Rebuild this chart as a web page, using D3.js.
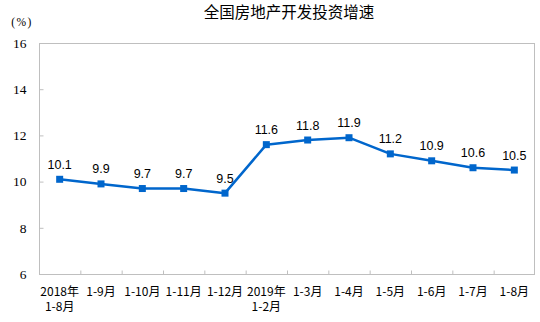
<!DOCTYPE html>
<html>
<head>
<meta charset="utf-8">
<script src="https://cdn.jsdelivr.net/npm/d3@7/dist/d3.min.js"></script>
<style>
  html, body { margin: 0; padding: 0; background: #ffffff; }
  svg { display: block; }
</style>
</head>
<body>
<svg id="chart" width="540" height="322"></svg>
<script>
// Year-to-date growth of national real-estate development investment (%)
const title = "全国房地产开发投资增速";
const unitLabel = "(%)";
const periods = [
  "2018年\n1-8月", "1-9月", "1-10月", "1-11月", "1-12月",
  "2019年\n1-2月", "1-3月", "1-4月", "1-5月", "1-6月", "1-7月", "1-8月"
];
const growth = [10.1, 9.9, 9.7, 9.7, 9.5, 11.6, 11.8, 11.9, 11.2, 10.9, 10.6, 10.5];
const yTicks = [6, 8, 10, 12, 14, 16];

const frameColor = "#bfbfbf";
const lineColor = "#0066cc";
const cjk = "'Noto Sans CJK SC', 'Noto Sans', sans-serif";

const svg = d3.select("#chart");
const plot = { left: 39, top: 43, right: 535, bottom: 274 };

const x = d3.scaleBand().domain(periods).range([plot.left, plot.right]);
const xEdges = d3.scaleLinear().domain([0, periods.length]).range([plot.left, plot.right]);
const y = d3.scaleLinear().domain([6, 16]).range([plot.bottom, plot.top]);
const cx = d => x(d) + x.bandwidth() / 2;

// Title
svg.append("text")
  .attr("x", (plot.left + plot.right) / 2 + 2)
  .attr("y", 18)
  .attr("text-anchor", "middle")
  .attr("font-family", cjk)
  .attr("font-size", 15.5)
  .attr("fill", "#000")
  .text(title);

// Unit label
svg.append("text")
  .attr("x", 22)
  .attr("y", 26)
  .attr("text-anchor", "middle")
  .attr("font-family", "'Liberation Serif', serif")
  .attr("font-size", 11.5)
  .attr("letter-spacing", 1.5)
  .attr("fill", "#000")
  .text(unitLabel);

// Plot frame
svg.append("rect")
  .attr("x", plot.left + 0.5)
  .attr("y", plot.top + 0.5)
  .attr("width", plot.right - plot.left - 1)
  .attr("height", plot.bottom - plot.top)
  .attr("fill", "none")
  .attr("stroke", frameColor)
  .attr("stroke-width", 1);

// Y axis: inward ticks, serif labels
const yAxis = svg.append("g")
  .attr("transform", `translate(${plot.left + 0.5},0)`)
  .call(d3.axisLeft(y).tickValues(yTicks).tickSize(-4).tickPadding(13).tickFormat(d3.format("d")));
yAxis.select(".domain").remove();
yAxis.selectAll(".tick line").attr("stroke", frameColor);
yAxis.selectAll(".tick text")
  .attr("font-family", "'Liberation Serif', serif")
  .attr("font-size", 13.5)
  .attr("fill", "#000");

// X axis: inward ticks at category boundaries
const xTickAxis = svg.append("g")
  .attr("transform", `translate(0,${plot.bottom + 0.5})`)
  .call(d3.axisBottom(xEdges).tickValues(d3.range(1, periods.length)).tickSize(-4).tickFormat(""));
xTickAxis.select(".domain").remove();
xTickAxis.selectAll(".tick line").attr("stroke", frameColor);

// X axis labels (multi-line where needed)
const xLabels = svg.append("g")
  .attr("transform", `translate(0,${plot.bottom})`)
  .call(d3.axisBottom(x).tickSize(0).tickFormat(""));
xLabels.select(".domain").remove();
xLabels.selectAll(".tick").each(function (d) {
  const t = d3.select(this).append("text")
    .attr("font-family", cjk)
    .attr("font-size", 12)
    .attr("fill", "#000")
    .attr("text-anchor", "middle");
  d.split("\n").forEach((line, i) => {
    t.append("tspan").attr("x", 0).attr("y", 21.5 + i * 15.5).text(line);
  });
});

// Series line
const pts = periods.map((p, i) => ({ p, v: growth[i] }));
svg.append("path")
  .datum(pts)
  .attr("fill", "none")
  .attr("stroke", lineColor)
  .attr("stroke-width", 2.5)
  .attr("stroke-linejoin", "round")
  .attr("d", d3.line().x(d => cx(d.p)).y(d => y(d.v)));

// Square markers
svg.append("g").selectAll("rect")
  .data(pts)
  .join("rect")
  .attr("x", d => cx(d.p) - 3.5)
  .attr("y", d => y(d.v) - 3.5)
  .attr("width", 7)
  .attr("height", 7)
  .attr("fill", lineColor);

// Value labels
svg.append("g").selectAll("text")
  .data(pts)
  .join("text")
  .attr("x", d => cx(d.p))
  .attr("y", d => y(d.v) - 10.5)
  .attr("text-anchor", "middle")
  .attr("font-family", "'Liberation Sans', Arial, sans-serif")
  .attr("font-size", 12.5)
  .attr("fill", "#000")
  .text(d => d.v.toFixed(1));
</script>
</body>
</html>
